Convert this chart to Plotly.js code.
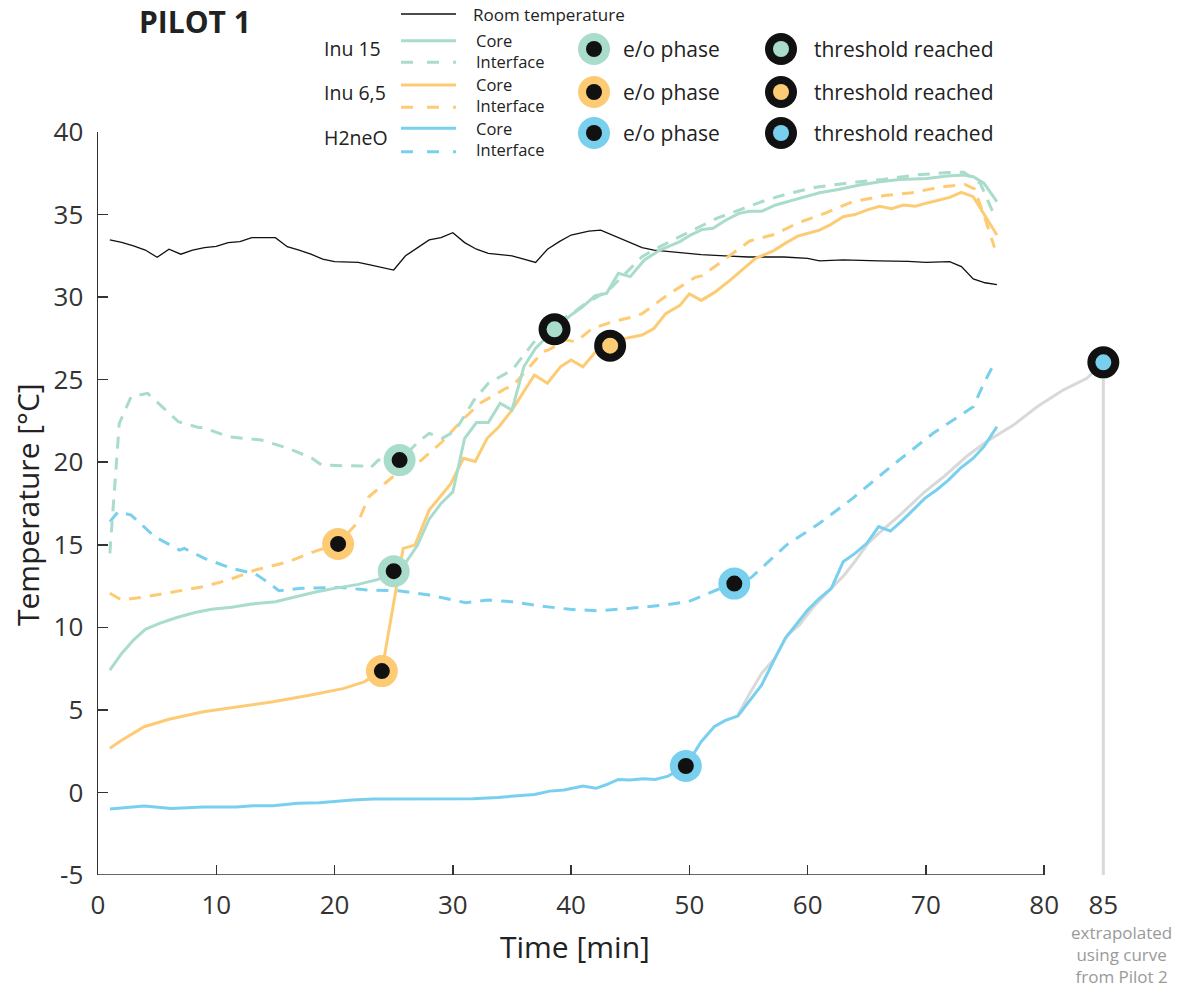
<!DOCTYPE html>
<html>
<head>
<meta charset="utf-8">
<script src="https://cdn.plot.ly/plotly-3.0.1.min.js"></script>
<style>html,body{margin:0;padding:0;background:#fff;}#chart{width:1188px;height:989px;}</style>
</head>
<body>
<div id="chart"></div>
<script>
// ---------------- DATA (time in min, temperature in °C) ----------------
const roomTime = [1,2,3,4,5,6,7,8,9,10,11,12,13,15,16,17,18,19,20,22,23,24,25,26,27,28,29,30,31,32,33,35,36,37,38,39,40,41.5,42.5,44,46,47,49,51,53,55,58,60,61,63,66,68.5,70,72,73,74,75,76];
const roomTemp = [33.46,33.32,33.1,32.85,32.41,32.9,32.6,32.85,33.0,33.07,33.3,33.36,33.6,33.6,33.05,32.85,32.6,32.3,32.15,32.1,31.95,31.8,31.64,32.5,33.0,33.46,33.6,33.9,33.3,32.9,32.65,32.5,32.3,32.1,32.9,33.36,33.76,34.0,34.06,33.6,33.0,32.85,32.7,32.57,32.5,32.43,32.43,32.35,32.2,32.25,32.2,32.17,32.1,32.15,31.85,31.1,30.87,30.75];

const inu15CoreTime = [1,2,3,4,5.2,6.6,8.2,9.6,11.3,13,15,16.4,18.3,20,22,23.7,25,26,27,28,29,30,31,32,33,34,35,36,37,38.6,40,41,42,43,44,45,46.2,47.5,49.2,50.1,51.1,52,53.1,54.2,55.1,56.1,57.3,59.3,61,62.7,64.4,66.1,67.8,70.1,71.8,73.2,74,74.9,76];
const inu15CoreTemp = [7.41,8.42,9.23,9.88,10.24,10.58,10.9,11.09,11.21,11.41,11.55,11.8,12.12,12.36,12.6,12.9,13.4,13.9,14.95,16.55,17.5,18.2,21.45,22.4,22.4,23.57,23.16,25.78,26.9,28.05,28.92,29.42,30.07,30.23,31.44,31.24,32.25,32.85,33.36,33.76,34.1,34.17,34.67,35.07,35.2,35.2,35.58,35.98,36.32,36.53,36.79,36.99,37.13,37.19,37.33,37.4,37.29,36.9,35.78];

const inu15IfTime = [1,1.8,2.8,4.2,6.8,8.5,8.9,11,13.8,16.1,18.1,18.9,20.6,22.3,23,23.7,25.5,27.1,28,29.1,30.2,31.8,33,35,37,37.9,40.1,41.2,43.2,44.6,46,47.2,48.6,50.3,52.3,54.2,56.5,58.5,60.7,63.6,66.4,69.2,71.8,73.2,74.6,75.7];
const inu15IfTemp = [14.48,22.35,23.97,24.17,22.45,22.1,22.1,21.55,21.34,20.84,20.24,19.83,19.79,19.77,19.63,20.13,20.13,21.24,21.75,21.45,21.9,23.77,24.78,25.58,27.4,28.2,29.0,29.6,30.43,31.44,32.45,32.95,33.46,34.06,34.77,35.27,35.88,36.29,36.65,36.93,37.13,37.4,37.54,37.56,36.89,35.08];

const inu65CoreTime = [1,1.8,3.9,6,8.9,12,14.8,18,20.8,22.5,24,25.8,26.8,28,29.8,30.9,31.9,32.9,33.9,35,36.9,38,39.1,40,41,42.2,43.3,44.6,46,47,48,49.2,50,51,52.1,53.4,54.7,55.6,57.1,58.2,59.2,61,61.9,63,64,65.1,66.1,67.1,68.1,69.1,70.2,72,73,74,76];
const inu65CoreTemp = [2.67,3.07,3.98,4.43,4.89,5.19,5.49,5.9,6.3,6.7,7.35,14.78,14.98,17.1,18.67,20.24,20.05,21.45,22.15,23.16,25.28,24.78,25.78,26.19,25.78,26.8,27.06,27.5,27.7,28.1,29.0,29.5,30.2,29.8,30.27,31.0,31.8,32.35,32.8,33.3,33.7,34.06,34.37,34.87,35.0,35.3,35.5,35.35,35.58,35.5,35.72,36.04,36.35,36.08,33.76];

const inu65IfTime = [1,2,4,6.5,8.9,11,13.3,16.1,18.4,20.3,22,22.9,24.9,27.3,29.1,30.8,32.3,34.5,35,37.6,38.1,39.5,40.4,41.8,43.5,45.2,46,48.3,50.5,51.1,52.5,55.1,57.2,59.1,61.6,63.8,66.5,68.8,71.3,73.3,74.1,74.9,75.8];
const inu65IfTemp = [12.06,11.65,11.85,12.16,12.46,12.86,13.47,13.97,14.62,15.05,16.4,17.91,19.1,20.1,21.24,22.56,23.57,24.48,24.57,26.69,26.8,27.4,27.3,28.1,28.5,28.8,29.0,30.2,31.2,31.3,32.05,33.4,33.8,34.47,35.12,35.78,36.15,36.32,36.67,36.82,36.55,34.97,33.0];

const h2CoreTime = [1,3.9,6.2,8.9,11.7,13.1,14.8,16.9,18.7,20.1,21.5,23.3,26.4,31.7,33.8,35.6,36.9,38.2,39.4,41,42.1,42.9,44,45,46.1,47.1,48.2,49.7,51,52.1,53,54.1,56.1,57.1,58.1,59,60,61,62,63,64,65,66,67,67.9,68.9,69.9,70.9,71.9,72.9,74,74.9,76];
const h2CoreTemp = [-1.0,-0.82,-0.97,-0.88,-0.88,-0.8,-0.8,-0.66,-0.62,-0.52,-0.46,-0.4,-0.38,-0.38,-0.3,-0.22,-0.12,0.08,0.15,0.39,0.25,0.45,0.79,0.75,0.83,0.79,0.99,1.6,3.07,3.98,4.35,4.63,6.5,7.92,9.33,10.14,11.05,11.76,12.36,13.97,14.48,15.09,16.1,15.83,16.4,17.1,17.81,18.32,18.92,19.63,20.24,20.94,22.15];

const h2IfTime = [1,1.7,2.8,4.8,6.9,7.3,9,11.3,13.3,14.1,15.3,17.2,20.3,22.9,25.4,28,31.1,33,35,37.3,39.9,42.3,45,47.8,49.9,52.3,53.8,55.2,58.2,61,63.8,67.2,70.6,74,74.9,75.7];
const h2IfTemp = [16.4,17.0,16.8,15.49,14.68,14.78,14.18,13.57,13.23,12.86,12.22,12.36,12.42,12.26,12.22,11.96,11.49,11.65,11.55,11.3,11.09,11.0,11.15,11.35,11.55,12.26,12.65,13.0,14.98,16.3,17.81,19.83,21.75,23.36,24.78,25.89];

// extrapolated H2neO core (curve from Pilot 2)
const extraTime = [54.1,55.1,56.1,57.2,58.3,59.3,60.5,61.6,63.1,64.1,65.1,66,67.8,69.9,71.5,73.4,75.1,77.4,79.4,81.6,83.6,85];
const extraTemp = [4.69,6.0,7.2,8.12,9.53,10.14,11.25,12.06,13.17,14.08,15.09,15.69,16.8,18.21,19.12,20.33,21.24,22.25,23.36,24.37,25.08,26.05];

// e/o phase points [core, interface]
const eoInu15Time = [25, 25.5];   const eoInu15Temp = [13.4, 20.13];
const eoInu65Time = [24, 20.3];   const eoInu65Temp = [7.35, 15.05];
const eoH2Time    = [49.7, 53.8]; const eoH2Temp    = [1.6, 12.65];
// threshold reached points: Inu 15, Inu 6,5, H2neO
const thrTime = [38.6, 43.3, 85];
const thrTemp = [28.05, 27.06, 26.05];

const xTickVals = [0,10,20,30,40,50,60,70,80,85];
const xTickText = ['0','10','20','30','40','50','60','70','80','85'];
const yTickVals = [-5,0,5,10,15,20,25,30,35,40];
const yTickText = ['-5','0','5','10','15','20','25','30','35','40'];

// ---------------- STYLE ----------------
const MINT = '#A9DCCB', ORANGE = '#FECB75', BLUE = '#79D0EE', GREY = '#D9D9D9', INK = '#111111', AX = '#333333';
const FONT = 'Open Sans, Lato, sans-serif';
const DASH = '12px,9px';
const ML = 98, MR = 61, MT = 132, MB = 114, FW = 1188, FH = 989;
const PW = FW - ML - MR, PH = FH - MT - MB;
const px = X => (X - ML) / PW;
const py = Y => (FH - MB - Y) / PH;

function line(x, y, color, width, dash) {
  return {x: x, y: y, type: 'scatter', mode: 'lines', hoverinfo: 'skip', showlegend: false,
          line: {color: color, width: width, dash: dash || 'solid'}};
}
function eoMarks(x, y, color) {
  return {x: x, y: y, type: 'scatter', mode: 'markers', showlegend: false, cliponaxis: false,
          marker: {size: 24, color: INK, line: {color: color, width: 8}}};
}

const traces = [
  line([thrTime[2], thrTime[2]], [-5, thrTemp[2]], GREY, 3),
  line(extraTime, extraTemp, GREY, 3),
  line(roomTime, roomTemp, INK, 1.3),
  line(h2IfTime, h2IfTemp, BLUE, 3, DASH),
  line(h2CoreTime, h2CoreTemp, BLUE, 3),
  line(inu65IfTime, inu65IfTemp, ORANGE, 3, DASH),
  line(inu65CoreTime, inu65CoreTemp, ORANGE, 3),
  line(inu15IfTime, inu15IfTemp, MINT, 3, DASH),
  line(inu15CoreTime, inu15CoreTemp, MINT, 3),
  eoMarks(eoInu15Time, eoInu15Temp, MINT),
  eoMarks(eoInu65Time, eoInu65Temp, ORANGE),
  eoMarks(eoH2Time, eoH2Temp, BLUE),
  {x: thrTime, y: thrTemp, type: 'scatter', mode: 'markers', showlegend: false, cliponaxis: false,
   marker: {size: 24, color: [MINT, ORANGE, BLUE], line: {color: INK, width: 8}}}
];

// ---------------- custom legend / texts ----------------
const shapes = [];
const ann = [];
function hline(x0, x1, Y, color, width, dash) {
  shapes.push({type: 'line', xref: 'paper', yref: 'paper', x0: px(x0), x1: px(x1), y0: py(Y), y1: py(Y),
               line: {color: color, width: width, dash: dash || 'solid'}});
}
function circ(X, Y, r, fill) {
  shapes.push({type: 'circle', xref: 'paper', yref: 'paper', xsizemode: 'pixel', ysizemode: 'pixel',
               xanchor: px(X), yanchor: py(Y), x0: -r, x1: r, y0: -r, y1: r,
               fillcolor: fill, line: {width: 0}});
}
function txt(text, X, Y, size, opts) {
  ann.push(Object.assign({text: text, xref: 'paper', yref: 'paper', x: px(X), y: py(Y), showarrow: false,
    xanchor: 'left', yanchor: 'middle', align: 'left', font: {family: FONT, size: size, color: '#222'}}, opts || {}));
}

// x axis line only from 0 to 80
shapes.push({type: 'line', xref: 'x', yref: 'y', x0: 0, x1: 80, y0: -5, y1: -5, line: {color: AX, width: 1.5}});

txt('<b>PILOT 1</b>', 137, 22, 30, {font: {family: FONT, size: 30, color: '#222'}});
hline(401, 456, 14, INK, 1.3);
txt('Room temperature', 471, 14, 17);

const rows = [
  {name: 'Inu 15', c: MINT, yn: 48, ys: 40.7, yd: 62.3, ym: 49},
  {name: 'Inu 6,5', c: ORANGE, yn: 93, ys: 85, yd: 107.3, ym: 92},
  {name: 'H2neO', c: BLUE, yn: 137, ys: 128.3, yd: 151.7, ym: 133}
];
rows.forEach(r => {
  txt(r.name, 322, r.yn, 19.5);
  hline(401, 456, r.ys, r.c, 3);
  hline(401, 456, r.yd, r.c, 3, '12px,14px');
  txt('Core<br>Interface', 474, (r.ys + r.yd) / 2 - 1, 16.5);
  circ(594, r.ym, 16, r.c); circ(594, r.ym, 8, INK);
  txt('e/o phase', 621, r.ym, 21);
  circ(781, r.ym, 16, INK); circ(781, r.ym, 8, r.c);
  txt('threshold reached', 812, r.ym, 21);
});

txt('Time [min]', 575, 946, 30, {xanchor: 'center'});
txt('Temperature [°C]', 27, 505, 30, {xanchor: 'center', textangle: -90});
txt('extrapolated<br>using curve<br>from Pilot 2', 1121, 954, 17,
    {xanchor: 'center', align: 'center', font: {family: FONT, size: 17, color: '#9a9a9a'}});

const layout = {
  width: FW, height: FH,
  margin: {l: ML, r: MR, t: MT, b: MB, pad: 0},
  paper_bgcolor: '#ffffff', plot_bgcolor: '#ffffff',
  showlegend: false,
  font: {family: FONT, color: AX},
  xaxis: {range: [0, 87], showgrid: false, zeroline: false, showline: false,
          tickmode: 'array', tickvals: xTickVals, ticktext: xTickText,
          ticks: 'inside', ticklen: 10, tickwidth: 1.5, tickcolor: AX,
          tickfont: {family: FONT, size: 26, color: '#333'}, ticklabelstandoff: 12, layer: 'below traces'},
  yaxis: {range: [-5, 40], showgrid: false, zeroline: false, showline: true, linecolor: AX, linewidth: 1.5,
          tickmode: 'array', tickvals: yTickVals, ticktext: yTickText,
          ticks: 'inside', ticklen: 10, tickwidth: 1.5, tickcolor: AX,
          tickfont: {family: FONT, size: 26, color: '#333'}, ticklabelstandoff: 8, layer: 'below traces'},
  shapes: shapes,
  annotations: ann
};

Plotly.newPlot('chart', traces, layout, {displayModeBar: false, staticPlot: true});
</script>
</body>
</html>
